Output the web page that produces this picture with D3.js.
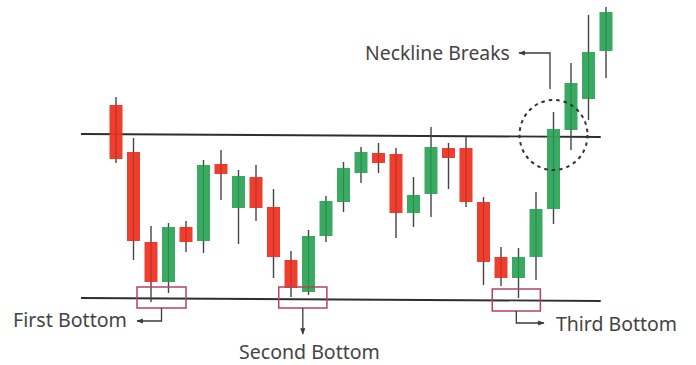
<!DOCTYPE html>
<html>
<head>
<meta charset="utf-8">
<script src="https://cdn.jsdelivr.net/npm/d3@7"></script>
<style>
  html, body { margin: 0; padding: 0; background: #fff; }
  svg { display: block; }
  text { font-family: "Noto Sans", "Open Sans", sans-serif; fill: #444; }
</style>
</head>
<body>
<svg id="chart" width="696" height="365"></svg>
<script>
// Triple bottom pattern: OHLC candles, price index runs 0..28
const opens  = [205, 158, 68, 28, 83, 69, 146, 102, 133, 103, 50, 18, 74, 108, 137, 157, 156, 97, 116, 162, 162, 108, 53, 32, 53, 101, 180, 211, 259];
const highs  = [213, 172, 84, 87, 89, 150, 160, 140, 145, 121, 59, 80, 114, 148, 163, 167, 162, 133, 183, 167, 173, 113, 63, 62, 118, 198, 247, 295, 303];
const lows   = [147, 50, 8, 17, 58, 57, 110, 66, 89, 32, 13, 15, 68, 98, 127, 137, 72, 83, 93, 121, 103, 25, 24, 12, 30, 86, 160, 190, 232];
const closes = [151, 69, 28, 83, 68, 145, 136, 134, 102, 53, 22, 74, 109, 142, 158, 147, 97, 115, 163, 152, 108, 48, 32, 53, 101, 181, 227, 258, 298];

// Reference levels: [start index, end index, start price, end price]
const neckline = [-2, 27.7, 176, 173];
const support  = [-2, 27.7, 12, 9];

// Highlighted bottoms: [from index, to index, top price, bottom price]
const bottomBoxes = [[1.2, 4.0, 23, 2], [9.3, 12.05, 23, 2], [21.5, 24.25, 21, -1]];
const labels = ["First Bottom", "Second Bottom", "Third Bottom", "Neckline Breaks"];

const candles = opens.map((o, i) => ({ i, o, h: highs[i], l: lows[i], c: closes[i] }));

const svg = d3.select("#chart");
const x = d3.scaleLinear().domain([0, 28]).range([116, 606]);
const y = d3.scaleLinear().domain([0, 310]).range([310, 0]);
const bodyW = 13;
const RED = "#ec3524", GREEN = "#2fa458", INK = "#3a3a3a", BOX = "#b2445e";

// Arrowhead markers
const defs = svg.append("defs");
defs.append("marker").attr("id", "arrow")
  .attr("viewBox", "0 0 10 10").attr("refX", 9).attr("refY", 5)
  .attr("markerWidth", 5).attr("markerHeight", 5).attr("orient", "auto")
  .append("path").attr("d", "M0,1 L10,5 L0,9 Z").attr("fill", INK);

// Neckline and support
[neckline, support].forEach(l => {
  svg.append("line")
    .attr("x1", x(l[0])).attr("x2", x(l[1]))
    .attr("y1", y(l[2])).attr("y2", y(l[3]))
    .attr("stroke", "#2e2e2e").attr("stroke-width", 1.8);
});

// Wicks
svg.append("g").selectAll("line").data(candles).join("line")
  .attr("x1", d => x(d.i)).attr("x2", d => x(d.i))
  .attr("y1", d => y(d.h)).attr("y2", d => y(d.l))
  .attr("stroke", "#444").attr("stroke-width", 1.4);

// Bodies
svg.append("g").selectAll("rect").data(candles).join("rect")
  .attr("x", d => x(d.i) - bodyW / 2)
  .attr("width", bodyW)
  .attr("y", d => y(Math.max(d.o, d.c)))
  .attr("height", d => Math.max(1, Math.abs(y(d.o) - y(d.c))))
  .attr("fill", d => d.c >= d.o ? GREEN : RED)
  .attr("fill-opacity", 0.95);

// Faint wick line running through each body
svg.append("g").selectAll("line").data(candles).join("line")
  .attr("x1", d => x(d.i)).attr("x2", d => x(d.i))
  .attr("y1", d => y(Math.max(d.o, d.c))).attr("y2", d => y(Math.min(d.o, d.c)))
  .attr("stroke", "#000").attr("stroke-opacity", 0.12).attr("stroke-width", 1);

// Bottom boxes
svg.append("g").selectAll("rect").data(bottomBoxes).join("rect")
  .attr("x", d => x(d[0])).attr("width", d => x(d[1]) - x(d[0]))
  .attr("y", d => y(d[2])).attr("height", d => y(d[3]) - y(d[2]))
  .attr("fill", "none").attr("stroke", BOX).attr("stroke-width", 1.5);

// Connectors
const conn = svg.append("g").attr("fill", "none").attr("stroke", INK).attr("stroke-width", 1.3);
const midX = b => (x(b[0]) + x(b[1])) / 2;
// first bottom: down then left
conn.append("path")
  .attr("d", `M${midX(bottomBoxes[0])},${y(bottomBoxes[0][3])} V321 H137`)
  .attr("marker-end", "url(#arrow)");
// second bottom: straight down
conn.append("path")
  .attr("d", `M${midX(bottomBoxes[1])},${y(bottomBoxes[1][3])} V334`)
  .attr("marker-end", "url(#arrow)");
// third bottom: down then right
conn.append("path")
  .attr("d", `M${midX(bottomBoxes[2])},${y(bottomBoxes[2][3])} V323 H544`)
  .attr("marker-end", "url(#arrow)");
// neckline break: up then left
conn.append("path")
  .attr("d", `M${x(24.8)},89 V53 H519`)
  .attr("marker-end", "url(#arrow)");

// Dashed circle around the breakout candle
svg.append("ellipse")
  .attr("cx", x(25)).attr("cy", y(175))
  .attr("rx", 34).attr("ry", 35)
  .attr("fill", "none").attr("stroke", "#333")
  .attr("stroke-width", 2).attr("stroke-dasharray", "3.5,4");

// Labels: font size chosen so each label spans its target width
const lab = svg.append("g");
const addLabel = (txt, lx, ly, w) => {
  const t = lab.append("text").attr("x", lx).attr("y", ly)
    .attr("font-size", 17).text(txt);
  const natural = t.node().getComputedTextLength();
  t.attr("font-size", Math.min(20, 17 * w / natural));
};
addLabel(labels[0], 13, 327, 114);
addLabel(labels[1], 239, 359, 141);
addLabel(labels[2], 556, 331, 121);
addLabel(labels[3], 365, 60, 145);
</script>
</body>
</html>
